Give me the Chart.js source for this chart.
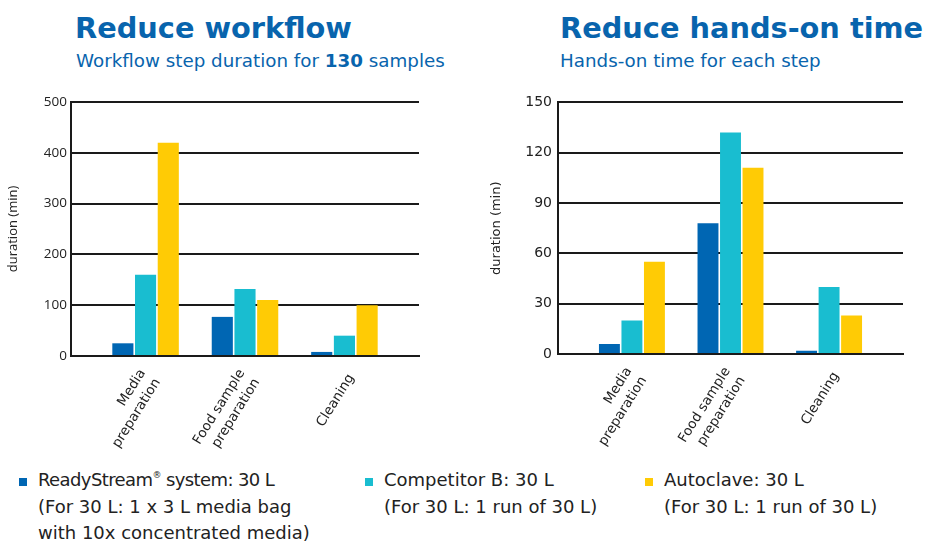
<!DOCTYPE html>
<html>
<head>
<meta charset="utf-8">
<script src="https://cdn.jsdelivr.net/npm/chart.js@4.4.0/dist/chart.umd.min.js"></script>
<style>
  body { margin: 0; background: #fff; font-family: "DejaVu Sans", Verdana, sans-serif; }
  #page { position: relative; width: 929px; height: 544px; overflow: hidden; }
  .title { position: absolute; top: 14px; font-size: 28.8px; line-height: 28.5px; font-weight: bold; color: #0864ad; white-space: nowrap; }
  .subtitle { position: absolute; top: 52px; font-size: 18.3px; line-height: 18px; color: #0864ad; white-space: nowrap; }
  .box { position: absolute; top: 88px; height: 372px; }
  .legend { position: absolute; top: 467px; font-size: 18px; line-height: 26.5px; color: #222; white-space: nowrap; }
  .legend .sq { position: absolute; left: -19px; top: 11px; width: 8px; height: 8px; }
  .legend sup { font-size: 9px; line-height: 0; position: relative; top: -1px; }
  .tight { letter-spacing: -0.6px; }
</style>
</head>
<body>
<div id="page">
  <div class="title" style="left:75px">Reduce workflow</div>
  <div class="subtitle" style="left:76px">Workflow step duration for <b>130</b> samples</div>
  <div class="title" style="left:560px">Reduce hands-on time</div>
  <div class="subtitle" style="left:560px">Hands-on time for each step</div>

  <div class="box" style="left:0px; width:440px"><canvas id="workflowChart"></canvas></div>
  <div class="box" style="left:470px; width:450px"><canvas id="handsChart"></canvas></div>

  <div class="legend" style="left:38px"><span class="sq" style="background:#0066b3"></span><span class="tight">ReadyStream<sup>®</sup> system: 30 L</span><br>(For 30 L: 1 x 3 L media bag<br>with 10x concentrated media)</div>
  <div class="legend" style="left:384px"><span class="sq" style="background:#19bdd0"></span>Competitor B: 30 L<br>(For 30 L: 1 run of 30 L)</div>
  <div class="legend" style="left:664px"><span class="sq" style="background:#ffcb05"></span>Autoclave: 30 L<br>(For 30 L: 1 run of 30 L)</div>
</div>

<script>
// Categories (workflow steps)
var steps = [['Media', 'preparation'], ['Food sample', 'preparation'], 'Cleaning'];

// Series names and colours
var seriesNames = ['ReadyStream system: 30 L', 'Competitor B: 30 L', 'Autoclave: 30 L'];
var seriesColors = ['#0066b3', '#19bdd0', '#ffcb05'];

// Workflow step duration for 130 samples (min)
var workflowReady = [25, 77, 8];
var workflowCompetitor = [160, 132, 40];
var workflowAutoclave = [420, 110, 100];
var workflowTicks = [0, 100, 200, 300, 400, 500];

// Hands-on time for each step (min)
var handsReady = [6, 78, 2];
var handsCompetitor = [20, 132, 40];
var handsAutoclave = [55, 111, 23];
var handsTicks = [0, 30, 60, 90, 120, 150];

// turn a list of values into points at positions 1, 2, 3
function toPoints(values) {
  return values.map(function(v, i) { return { x: i + 1, y: v }; });
}

function makeDatasets(lists) {
  return lists.map(function(values, i) {
    return {
      label: seriesNames[i],
      data: toPoints(values),
      backgroundColor: seriesColors[i],
      borderWidth: 0,
      categoryPercentage: 0.685,
      barPercentage: 0.93
    };
  });
}

// single-line labels get an empty first line so they sit centred on the tick
// like the two-line ones (short line height for that one)
function tickFont(ctx) {
  var twoLines = Array.isArray(steps[ctx.index]);
  return { family: '"DejaVu Sans", Verdana, sans-serif', size: 13.5, lineHeight: twoLines ? 1.3 : 0.87 };
}
function tickLabel(v) {
  var s = steps[v - 1];
  return Array.isArray(s) ? s : ['', s];
}

function makeChart(canvasId, lists, ticks, opts) {
  var ctx = document.getElementById(canvasId);
  return new Chart(ctx, {
    type: 'bar',
    data: { datasets: makeDatasets(lists) },
    options: {
      responsive: true,
      maintainAspectRatio: false,
      animation: false,
      layout: { padding: { top: 14, right: opts.padRight, bottom: 0, left: 0 } },
      plugins: { legend: { display: false }, tooltip: { enabled: false } },
      scales: {
        x: {
          type: 'linear',
          offset: false,
          bounds: 'data',
          min: 0.25,
          max: steps.length + 0.75,
          grid: { display: false, offset: false },
          border: { display: true, color: '#1a1a1a', width: 2 },
          afterDataLimits: function(axis) {
            axis.min = 0.25;
            axis.max = steps.length + 0.75;
          },
          afterBuildTicks: function(axis) {
            axis.ticks = steps.map(function(s, i) { return { value: i + 1 }; });
          },
          afterFit: function(axis) { axis.height = opts.xHeight; },
          ticks: {
            autoSkip: false,
            minRotation: 58,
            maxRotation: 58,
            padding: 2,
            labelOffset: -3,
            color: '#222',
            font: tickFont,
            callback: tickLabel
          }
        },
        y: {
          min: ticks[0],
          max: ticks[ticks.length - 1],
          afterBuildTicks: function(axis) {
            axis.ticks = ticks.map(function(v) { return { value: v }; });
          },
          afterFit: function(axis) { axis.width = opts.yWidth; },
          grid: { color: '#1a1a1a', lineWidth: 2, drawTicks: false },
          border: { display: true, color: '#1a1a1a', width: 2 },
          ticks: {
            padding: opts.tickPad,
            color: '#222',
            font: { family: opts.yFont, size: opts.yFontSize }
          },
          title: {
            display: true,
            text: 'duration (min)',
            color: '#222',
            padding: { top: opts.titlePad, bottom: 0 },
            font: { family: opts.yFont, size: 13 }
          }
        }
      }
    }
  });
}

makeChart('workflowChart', [workflowReady, workflowCompetitor, workflowAutoclave], workflowTicks, {
  padRight: 21, xHeight: 104, yWidth: 71, tickPad: 4, titlePad: 5,
  yFont: '"Open Sans", sans-serif', yFontSize: 13.5
});

makeChart('handsChart', [handsReady, handsCompetitor, handsAutoclave], handsTicks, {
  padRight: 17, xHeight: 106, yWidth: 88, tickPad: 6, titlePad: 19,
  yFont: '"DejaVu Sans", Verdana, sans-serif', yFontSize: 14
});
</script>
</body>
</html>
